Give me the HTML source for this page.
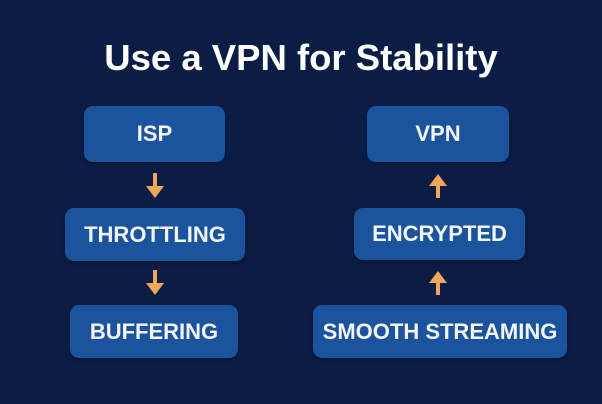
<!DOCTYPE html>
<html><head><style>
body{margin:0;width:602px;height:404px;background:#0b1d45;font-family:"Liberation Sans",sans-serif;position:relative;overflow:hidden}
.t{position:absolute;left:0;width:602px;top:37px;text-align:center;color:#fff;font-weight:bold;font-size:36.5px}
.b{position:absolute;background:#1b539c;border-radius:9px;color:#f2f5fa;font-weight:bold;font-size:22px;display:flex;align-items:center;justify-content:center;box-shadow:0 2px 4px rgba(0,0,0,.3)}
svg{position:absolute;left:0;top:0}
</style></head><body>
<div class="t">Use a VPN for Stability</div>
<div class="b" style="left:84px;top:106px;width:141px;height:56px">ISP</div>
<div class="b" style="left:65px;top:208px;width:180px;height:53px">THROTTLING</div>
<div class="b" style="left:70px;top:305px;width:168px;height:53px">BUFFERING</div>
<div class="b" style="left:367px;top:106px;width:142px;height:56px">VPN</div>
<div class="b" style="left:354px;top:208px;width:171px;height:52px">ENCRYPTED</div>
<div class="b" style="left:313px;top:305px;width:254px;height:53px">SMOOTH STREAMING</div>
<svg width="602" height="404" fill="#f0a75a">
<rect x="153" y="173" width="4" height="14"/><polygon points="146,186 164,186 155,198"/>
<rect x="153" y="270" width="4" height="14"/><polygon points="146,283 164,283 155,295"/>
<rect x="436" y="184" width="4" height="14"/><polygon points="429,186 447,186 438,174"/>
<rect x="436" y="281" width="4" height="14"/><polygon points="429,283 447,283 438,271"/>
</svg>
</body></html>
